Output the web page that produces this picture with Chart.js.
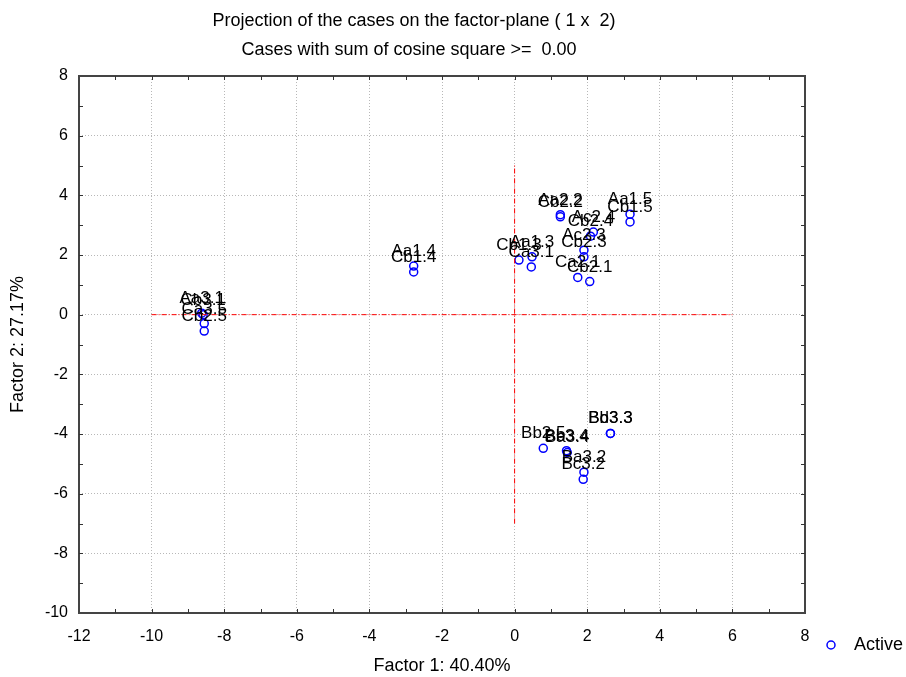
<!DOCTYPE html>
<html>
<head>
<meta charset="utf-8">
<script src="https://cdn.jsdelivr.net/npm/chart.js@4/dist/chart.umd.min.js"></script>
<style>
  html, body { margin: 0; padding: 0; background: #fff; }
  #wrap { width: 906px; height: 677px; position: relative; }
</style>
</head>
<body>
<div id="wrap"><canvas id="chart" width="906" height="677"></canvas></div>
<script>
// case labels and coordinates
const caseLabels = ["Aa3.1", "Cb3.1", "Ca3.5", "Cb2.5",
    "Aa1.4", "Cb1.4",
    "Aa2.2", "Cb2.2", "Aa1.5", "Cb1.5", "Ac2.4", "Cb2.4",
    "Aa1.3", "Cb1.3", "Ca3.1", "Ac2.3", "Cb2.3", "Ca2.1", "Cb2.1",
    "Bb3.3", "Bd3.3", "Bb2.5", "Bb3.4", "Ba3.4", "Ba3.2", "Bc3.2"];
const factor1 = [-8.62, -8.58, -8.55, -8.55,
    -2.78, -2.78,
    1.26, 1.26, 3.18, 3.18, 2.17, 2.09,
    0.48, 0.12, 0.46, 1.91, 1.91, 1.74, 2.07,
    2.64, 2.64, 0.79, 1.43, 1.45, 1.91, 1.89];
const factor2 = [0.05, 0.0, -0.3, -0.55,
    1.63, 1.43,
    3.35, 3.28, 3.37, 3.11, 2.77, 2.63,
    1.94, 1.83, 1.60, 2.16, 1.94, 1.25, 1.11,
    -3.98, -3.98, -4.48, -4.56, -4.62, -5.28, -5.52];

// red reference axes through the origin
const hLineX = [-10, 6];
const hLineY = [0, 0];
const vLineX = [0, 0];
const vLineY = [-7, 5];

const xMin = -12, xMax = 8, yMin = -10, yMax = 8;
const titleLine1 = "Projection of the cases on the factor-plane ( 1 x  2)";
const titleLine2 = "Cases with sum of cosine square >=  0.00";
const xTitle = "Factor 1: 40.40%";
const yTitle = "Factor 2: 27.17%";
const legendLabel = "Active";

const FONT = "Liberation Sans, Arial, sans-serif";

const points = factor1.map((x, i) => ({ x: x, y: factor2[i] }));

const decorPlugin = {
    id: "decor",
    afterDatasetsDraw(chart) {
        const ctx = chart.ctx;
        const a = chart.chartArea;
        const xs = chart.scales.x, ys = chart.scales.y;
        ctx.save();
        // point labels
        ctx.font = "17px " + FONT;
        ctx.fillStyle = "#000";
        ctx.textAlign = "center";
        ctx.textBaseline = "alphabetic";
        const meta = chart.getDatasetMeta(2);
        meta.data.forEach((el, i) => {
            ctx.fillText(caseLabels[i], el.x, el.y - 10);
        });
        // frame
        ctx.strokeStyle = "#444";
        ctx.lineWidth = 2;
        ctx.strokeRect(a.left, a.top, a.right - a.left, a.bottom - a.top);
        // inward ticks on all sides
        ctx.lineWidth = 1;
        ctx.strokeStyle = "#333";
        ctx.beginPath();
        for (let v = xMin + 1; v < xMax; v++) {
            const px = Math.round(xs.getPixelForValue(v)) + 0.5;
            ctx.moveTo(px, a.bottom); ctx.lineTo(px, a.bottom - 4);
            ctx.moveTo(px, a.top); ctx.lineTo(px, a.top + 4);
        }
        for (let v = yMin + 1; v < yMax; v++) {
            const py = Math.round(ys.getPixelForValue(v)) + 0.5;
            ctx.moveTo(a.left, py); ctx.lineTo(a.left + 4, py);
            ctx.moveTo(a.right, py); ctx.lineTo(a.right - 4, py);
        }
        ctx.stroke();
        // titles
        ctx.fillStyle = "#000";
        ctx.font = "18px " + FONT;
        ctx.textBaseline = "middle";
        ctx.fillText(titleLine1, 414, 21);
        ctx.fillText(titleLine2, 409, 50);
        ctx.fillText(xTitle, (a.left + a.right) / 2, 666);
        ctx.translate(18, (a.top + a.bottom) / 2);
        ctx.rotate(-Math.PI / 2);
        ctx.fillText(yTitle, 0, 0);
        ctx.restore();
        // legend
        ctx.save();
        ctx.strokeStyle = "#0000ff";
        ctx.lineWidth = 1.5;
        ctx.beginPath();
        ctx.arc(831, 645, 4, 0, Math.PI * 2);
        ctx.stroke();
        ctx.font = "18px " + FONT;
        ctx.fillStyle = "#000";
        ctx.textAlign = "left";
        ctx.textBaseline = "middle";
        ctx.fillText(legendLabel, 854, 645);
        ctx.restore();
    }
};

const gridColor = (c) => (c.tick && c.tick.value % 2 === 0 ? "#b8b8b8" : "rgba(0,0,0,0)");

new Chart(document.getElementById("chart"), {
    type: "scatter",
    data: {
        datasets: [
            {
                data: hLineX.map((x, i) => ({ x: x, y: hLineY[i] })),
                showLine: true,
                borderColor: "#ff0000",
                borderWidth: 1,
                borderDash: [5, 2, 1, 2],
                pointRadius: 0,
            },
            {
                data: vLineX.map((x, i) => ({ x: x, y: vLineY[i] })),
                showLine: true,
                borderColor: "#ff0000",
                borderWidth: 1,
                borderDash: [5, 2, 1, 2],
                pointRadius: 0,
            },
            {
                data: points,
                pointRadius: 4,
                pointBorderWidth: 1.5,
                pointBorderColor: "#0000ff",
                pointBackgroundColor: "rgba(0,0,0,0)",
            },
        ],
    },
    options: {
        responsive: false,
        animation: false,
        layout: { padding: { top: 76, right: 101, left: 0, bottom: 0 } },
        plugins: { legend: { display: false }, tooltip: { enabled: false } },
        scales: {
            x: {
                min: xMin, max: xMax,
                afterFit: (s) => { s.height = 64; },
                ticks: {
                    stepSize: 1,
                    autoSkip: false,
                    maxRotation: 0,
                    padding: 14,
                    color: "#000",
                    font: { family: FONT, size: 16 },
                    callback: (v) => (v % 2 === 0 ? v : ""),
                },
                grid: { color: gridColor, drawTicks: false, lineWidth: 1 },
                border: { display: false, dash: [1, 2] },
            },
            y: {
                min: yMin, max: yMax,
                afterFit: (s) => { s.width = 79; },
                ticks: {
                    stepSize: 1,
                    autoSkip: false,
                    padding: 11,
                    color: "#000",
                    font: { family: FONT, size: 16 },
                    callback: (v) => (v % 2 === 0 ? v : ""),
                },
                grid: { color: gridColor, drawTicks: false, lineWidth: 1 },
                border: { display: false, dash: [1, 2] },
            },
        },
    },
    plugins: [decorPlugin],
});
</script>
</body>
</html>
